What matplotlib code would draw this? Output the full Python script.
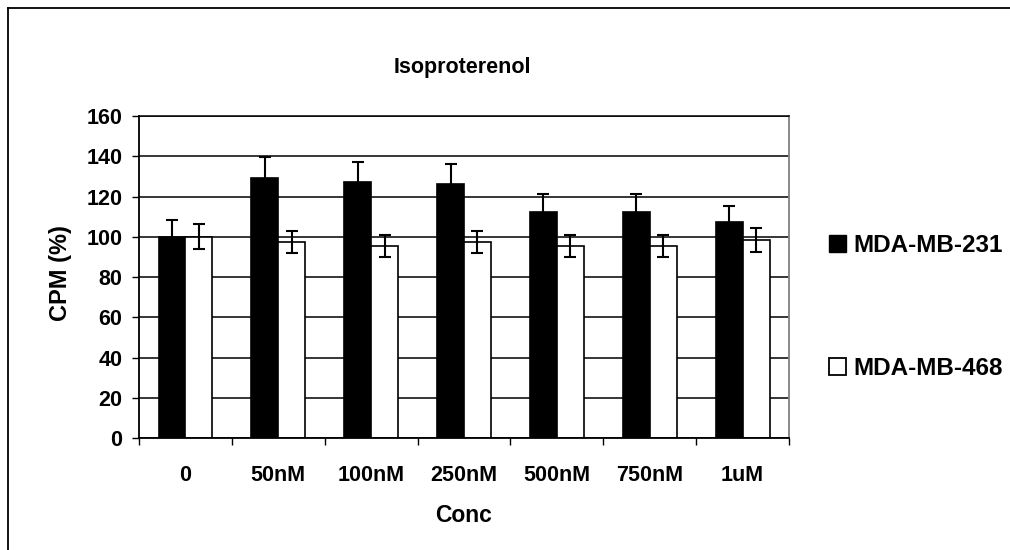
import matplotlib
matplotlib.use("Agg")
import matplotlib.pyplot as plt
from matplotlib.lines import Line2D
from matplotlib.patches import Patch
import numpy as np

plt.rcParams['font.family'] = ['Liberation Sans', 'DejaVu Sans']
plt.rcParams['font.weight'] = 'bold'

# datos
conc = ["0", "50nM", "100nM", "250nM", "500nM", "750nM", "1uM"]
mda231 = [100, 129.4, 127.4, 126.4, 112.5, 112.5, 107.5]
err231 = [8.5, 10, 9.8, 10, 8.8, 8.8, 7.8]
mda468 = [100, 97.5, 95.6, 97.5, 95.6, 95.6, 98.5]
err468 = [6.2, 5.5, 5.5, 5.5, 5.5, 5.5, 6.1]
series = ["MDA-MB-231", "MDA-MB-468"]

W, H = 1010, 550
fig = plt.figure(figsize=(W / 100, H / 100), dpi=100)
ax = fig.add_axes([139 / W, 1 - 438.3 / H, 650 / W, 322.3 / H])

x = np.arange(len(conc))
w = 0.29
ax.bar(x - w / 2, mda231, w, color="black", edgecolor="black", linewidth=1.2, zorder=2)
ax.bar(x + w / 2, mda468, w, color="white", edgecolor="black", linewidth=1.2, zorder=2)
ax.errorbar(x - w / 2, mda231, yerr=err231, fmt="none", ecolor="black",
            elinewidth=1.5, capsize=4, capthick=1.5, zorder=3)
ax.errorbar(x + w / 2, mda468, yerr=err468, fmt="none", ecolor="black",
            elinewidth=1.5, capsize=4, capthick=1.5, zorder=3)

ax.set_xlim(-0.5, len(conc) - 0.5)
ax.set_ylim(0, 160)
ax.set_yticks(np.arange(0, 161, 20))
ax.yaxis.grid(True, color="black", linewidth=1.1, zorder=0)
ax.set_axisbelow(True)

ax.set_xticks(x)
ax.set_xticklabels(conc)
ax.set_xticks(np.arange(-0.5, len(conc), 1), minor=True)
ax.tick_params(axis="x", which="major", length=0, pad=19, labelsize=15.5)
ax.tick_params(axis="x", which="minor", length=5, width=1, direction="out")
ax.tick_params(axis="y", length=5, width=1, pad=7, labelsize=15.5)

for s in ["left", "bottom"]:
    ax.spines[s].set_color("black")
    ax.spines[s].set_linewidth(1.3)
ax.spines["top"].set_linewidth(1.1)
ax.spines["right"].set_color("#808080")
ax.spines["right"].set_linewidth(1.3)

fig.text(462 / W, 1 - 68 / H, "Isoproterenol", ha="center", va="center",
         fontsize=15.5, fontweight="bold")
fig.text(464 / W, 1 - 515 / H, "Conc", ha="center", va="center",
         fontsize=16.5, fontweight="bold")
fig.text(61 / W, 1 - 273 / H, "CPM (%)", ha="center", va="center",
         rotation=90, fontsize=17, fontweight="bold")

handles = [Patch(facecolor="black", edgecolor="black"),
           Patch(facecolor="white", edgecolor="black", linewidth=1.3)]
fig.legend(handles, series, loc="center left", bbox_to_anchor=(829 / W, 1 - 307 / H),
           frameon=False, handlelength=0.7, handleheight=0.7,
           handletextpad=0.3, labelspacing=4.1, borderpad=0, borderaxespad=0,
           prop={"weight": "bold", "size": 17.5})

# marco
fig.add_artist(Line2D([7.5 / W, 7.5 / W], [0, 1 - 8 / H], color="black", lw=1.3))
fig.add_artist(Line2D([7.5 / W, 1], [1 - 8 / H, 1 - 8 / H], color="black", lw=1.3))

fig.savefig("out.png", dpi=100)
